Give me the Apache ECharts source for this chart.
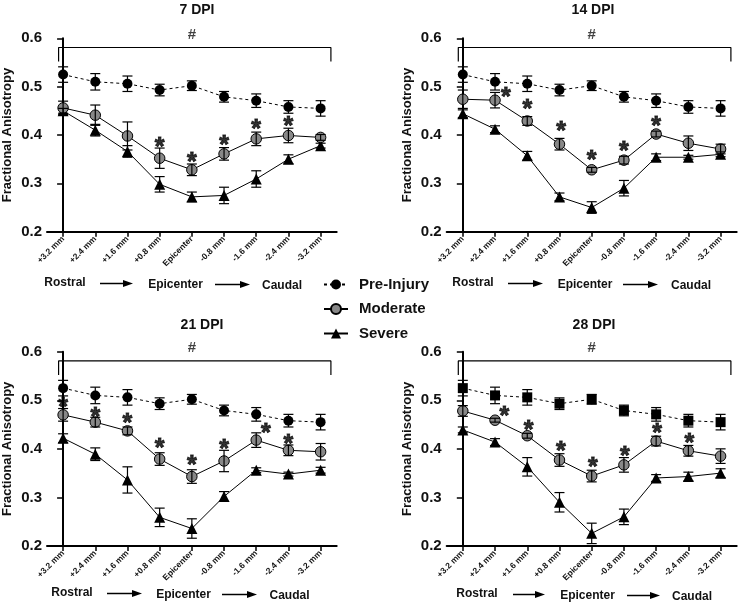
<!DOCTYPE html>
<html>
<head>
<meta charset="utf-8">
<script src="https://cdn.jsdelivr.net/npm/echarts@6/dist/echarts.min.js"></script>
<style>html,body{margin:0;padding:0;background:#fff}#main{width:741px;height:602px}</style>
</head>
<body>
<div id="main"></div>
<script>
var categories = ['+3.2 mm','+2.4 mm','+1.6 mm','+0.8 mm','Epicenter','-0.8 mm','-1.6 mm','-2.4 mm','-3.2 mm'];
var yTicks = [0.2, 0.3, 0.4, 0.5, 0.6];
var panelTitles = ['7 DPI','14 DPI','21 DPI','28 DPI'];

// pre-injury baseline (same in every panel)
var preInjury    = [0.525, 0.510, 0.506, 0.493, 0.502, 0.479, 0.471, 0.458, 0.455];
var preInjuryErr = [0.016, 0.017, 0.016, 0.012, 0.010, 0.011, 0.014, 0.013, 0.016];

var moderate7     = [0.456, 0.441, 0.398, 0.352, 0.328, 0.361, 0.392, 0.399, 0.395];
var moderate7Err  = [0.014, 0.021, 0.029, 0.021, 0.012, 0.013, 0.014, 0.015, 0.006];
var severe7       = [0.450, 0.410, 0.366, 0.298, 0.272, 0.275, 0.309, 0.350, 0.378];
var severe7Err    = [0.005, 0.012, 0.012, 0.016, 0.010, 0.017, 0.017, 0.009, 0.005];

var moderate14    = [0.474, 0.472, 0.429, 0.381, 0.328, 0.348, 0.402, 0.383, 0.371];
var moderate14Err = [0.019, 0.016, 0.009, 0.012, 0.005, 0.008, 0.006, 0.015, 0.010];
var severe14      = [0.444, 0.412, 0.357, 0.272, 0.250, 0.290, 0.354, 0.354, 0.360];
var severe14Err   = [0.008, 0.007, 0.009, 0.008, 0.012, 0.016, 0.007, 0.004, 0.005];

var moderate21    = [0.470, 0.455, 0.437, 0.379, 0.343, 0.375, 0.418, 0.397, 0.394];
var moderate21Err = [0.013, 0.010, 0.008, 0.013, 0.014, 0.022, 0.015, 0.011, 0.017];
var severe21      = [0.422, 0.389, 0.336, 0.259, 0.236, 0.302, 0.356, 0.348, 0.356];
var severe21Err   = [0.009, 0.013, 0.027, 0.019, 0.020, 0.010, 0.005, 0.004, 0.006];

var moderate28    = [0.478, 0.459, 0.427, 0.377, 0.344, 0.367, 0.416, 0.396, 0.385];
var moderate28Err = [0.011, 0.004, 0.005, 0.013, 0.012, 0.015, 0.010, 0.011, 0.015];
var severe28      = [0.439, 0.414, 0.363, 0.290, 0.226, 0.260, 0.340, 0.343, 0.350];
var severe28Err   = [0.006, 0.007, 0.019, 0.020, 0.021, 0.016, 0.007, 0.009, 0.009];

// significance asterisks: [x position, y value]
var stars7  = [[3,0.386],[4,0.355],[5,0.389],[6,0.423],[7,0.428]];
var stars14 = [[1.34,0.488],[2,0.464],[3.05,0.419],[4,0.359],[5,0.378],[6,0.429]];
var stars21 = [[0,0.496],[1,0.476],[2,0.463],[3,0.411],[4,0.377],[5,0.410],[6.3,0.442],[7,0.420]];
var stars28 = [[1.29,0.477],[2.04,0.449],[3.04,0.405],[4.04,0.372],[5.03,0.396],[6.03,0.442],[7.03,0.422]];

var panels = [
	{mod:moderate7, modErr:moderate7Err, sev:severe7, sevErr:severe7Err, stars:stars7, preSymbol:'circle'},
	{mod:moderate14, modErr:moderate14Err, sev:severe14, sevErr:severe14Err, stars:stars14, preSymbol:'circle'},
	{mod:moderate21, modErr:moderate21Err, sev:severe21, sevErr:severe21Err, stars:stars21, preSymbol:'circle'},
	{mod:moderate28, modErr:moderate28Err, sev:severe28, sevErr:severe28Err, stars:stars28, preSymbol:'rect'}
];

var grids = [
	{left:46.7, top:38.3, width:290, height:193.4},
	{left:446.7, top:38.3, width:290, height:193.4},
	{left:46.7, top:351.7, width:290, height:194.3},
	{left:446.7, top:351.7, width:290, height:194.3}
];
var titlePos = [[197,10],[593,10],[202,325],[594,325]];
// rostral / epicenter / caudal row: [rostralX, arrow1 x1, x2, epicenterX, arrow2 x1, x2, caudalX, y]
var dirRows = [
	[65, 100, 133, 175.5, 215, 250, 282, 283],
	[473, 508, 543, 585, 623, 658, 691, 283],
	[72, 107, 142, 183.5, 222, 257, 289.5, 593],
	[477, 513, 545, 587.5, 627, 660, 692, 594]
];

var FONT = 'Liberation Sans, Arial, sans-serif';
var idx = categories.map(function(c, i){ return i; });

function pts(vals){
	return vals.map(function(v, i){ return [i, v]; });
}
function errData(vals, errs){
	return vals.map(function(v, i){ return [i, v, errs[i]]; });
}
function renderErr(params, api){
	var x = api.value(0), v = api.value(1), e = api.value(2);
	var t = api.coord([x, v + e]);
	var b = api.coord([x, v - e]);
	var w = 5;
	var st = {stroke:'#000', lineWidth:1.2};
	return {type:'group', children:[
		{type:'line', shape:{x1:t[0], y1:t[1], x2:b[0], y2:b[1]}, style:st},
		{type:'line', shape:{x1:t[0]-w, y1:t[1], x2:t[0]+w, y2:t[1]}, style:st},
		{type:'line', shape:{x1:b[0]-w, y1:b[1], x2:b[0]+w, y2:b[1]}, style:st}
	]};
}

var xAxes = [], yAxes = [], series = [], graphics = [];

grids.forEach(function(g, k){
	xAxes.push({
		type:'value', gridIndex:k, min:-0.5, max:8.5,
		axisLine:{show:true, onZero:false, lineStyle:{color:'#000', width:2}},
		axisTick:{show:true, customValues:idx, length:5, lineStyle:{color:'#000', width:1.5}},
		axisLabel:{show:true, customValues:idx, rotate:45, margin:6, fontSize:8.5, fontWeight:'bold', fontFamily:FONT, color:'#111',
			formatter:function(v){ return categories[Math.round(v)]; }},
		splitLine:{show:false}
	});
	yAxes.push({
		type:'value', gridIndex:k, min:0.2, max:0.6, interval:0.1,
		name:'Fractional Anisotropy', nameLocation:'middle', nameGap:33,
		nameTextStyle:{fontSize:13, fontWeight:'bold', fontFamily:FONT, color:'#111'},
		axisLine:{show:true, lineStyle:{color:'#000', width:2}},
		axisTick:{show:true, length:6, lineStyle:{color:'#000', width:1.5}},
		axisLabel:{fontSize:15, fontWeight:'bold', fontFamily:FONT, color:'#111', margin:5,
			formatter:function(v){ return v.toFixed(1); }},
		splitLine:{show:false}
	});

	var p = panels[k];
	// bracket with # over all positions
	series.push({
		type:'line', xAxisIndex:k, yAxisIndex:k, silent:true, symbol:'none', z:1,
		lineStyle:{color:'#000', width:1.2},
		data:[[-0.14,0.552],[-0.14,0.581],[8.32,0.581],[8.32,0.552]]
	});
	series.push({
		type:'scatter', xAxisIndex:k, yAxisIndex:k, silent:true, clip:false, symbolSize:1,
		itemStyle:{color:'rgba(0,0,0,0)'},
		label:{show:true, position:'inside', formatter:'#', fontSize:15, fontWeight:'bold', fontFamily:FONT, color:'#111'},
		data:[[4,0.607]]
	});
	series.push({
		name:'Pre-Injury', type:'line', xAxisIndex:k, yAxisIndex:k, z:3,
		symbol:p.preSymbol, symbolSize:10,
		itemStyle:{color:'#000'},
		lineStyle:{color:'#000', width:1, type:[3,3]},
		data:pts(preInjury)
	});
	series.push({
		name:'Severe', type:'line', xAxisIndex:k, yAxisIndex:k, z:3,
		symbol:'triangle', symbolSize:11,
		itemStyle:{color:'#000'},
		lineStyle:{color:'#000', width:1},
		data:pts(p.sev)
	});
	series.push({
		name:'Moderate', type:'line', xAxisIndex:k, yAxisIndex:k, z:3,
		symbol:'circle', symbolSize:10.5,
		itemStyle:{color:'#888', borderColor:'#000', borderWidth:1},
		lineStyle:{color:'#000', width:1},
		data:pts(p.mod)
	});
	[[preInjury, preInjuryErr],[p.sev, p.sevErr],[p.mod, p.modErr]].forEach(function(pair){
		series.push({
			type:'custom', xAxisIndex:k, yAxisIndex:k, z:4, silent:true,
			renderItem:renderErr, encode:{x:0, y:1},
			data:errData(pair[0], pair[1])
		});
	});
	series.push({
		type:'scatter', xAxisIndex:k, yAxisIndex:k, silent:true, clip:false, symbolSize:1, z:5,
		itemStyle:{color:'rgba(0,0,0,0)'},
		label:{show:true, position:'inside', formatter:'*', fontSize:25, fontWeight:'bold', fontFamily:FONT, color:'#000',
			textBorderColor:'#000', textBorderWidth:0.9, offset:[0,6]},
		data:p.stars
	});

	// panel title
	graphics.push({type:'text', x:titlePos[k][0], y:titlePos[k][1],
		style:{text:panelTitles[k], font:'bold 14px ' + FONT, fill:'#111', align:'center', verticalAlign:'middle'}});
	// rostral -> epicenter -> caudal row
	var r = dirRows[k], y = r[7];
	graphics.push({type:'text', x:r[0], y:y, style:{text:'Rostral', font:'bold 12px ' + FONT, fill:'#111', align:'center', verticalAlign:'middle'}});
	graphics.push({type:'text', x:r[3], y:y+2, style:{text:'Epicenter', font:'bold 12px ' + FONT, fill:'#111', align:'center', verticalAlign:'middle'}});
	graphics.push({type:'text', x:r[6], y:y+3, style:{text:'Caudal', font:'bold 12px ' + FONT, fill:'#111', align:'center', verticalAlign:'middle'}});
	[[r[1], r[2], y+0.5],[r[4], r[5], y+1.5]].forEach(function(a){
		graphics.push({type:'line', shape:{x1:a[0], y1:a[2], x2:a[1]-9, y2:a[2]}, style:{stroke:'#000', lineWidth:1.5}});
		graphics.push({type:'polygon', shape:{points:[[a[1]-10,a[2]-3.5],[a[1],a[2]],[a[1]-10,a[2]+3.5]]}, style:{fill:'#000'}});
	});
});

var myChart = echarts.init(document.getElementById('main'));
var option = {
	animation:false,
	backgroundColor:'#fff',
	grid:grids,
	xAxis:xAxes,
	yAxis:yAxes,
	legend:{
		data:['Pre-Injury','Moderate','Severe'],
		orient:'vertical', left:323, top:277, padding:0,
		itemWidth:24, itemHeight:12.5, itemGap:9.5, selectedMode:false,
		textStyle:{fontSize:15, fontWeight:'bold', fontFamily:FONT, color:'#111', padding:[0,0,0,6]}
	},
	graphic:graphics,
	series:series
};
myChart.setOption(option);
</script>
</body>
</html>
